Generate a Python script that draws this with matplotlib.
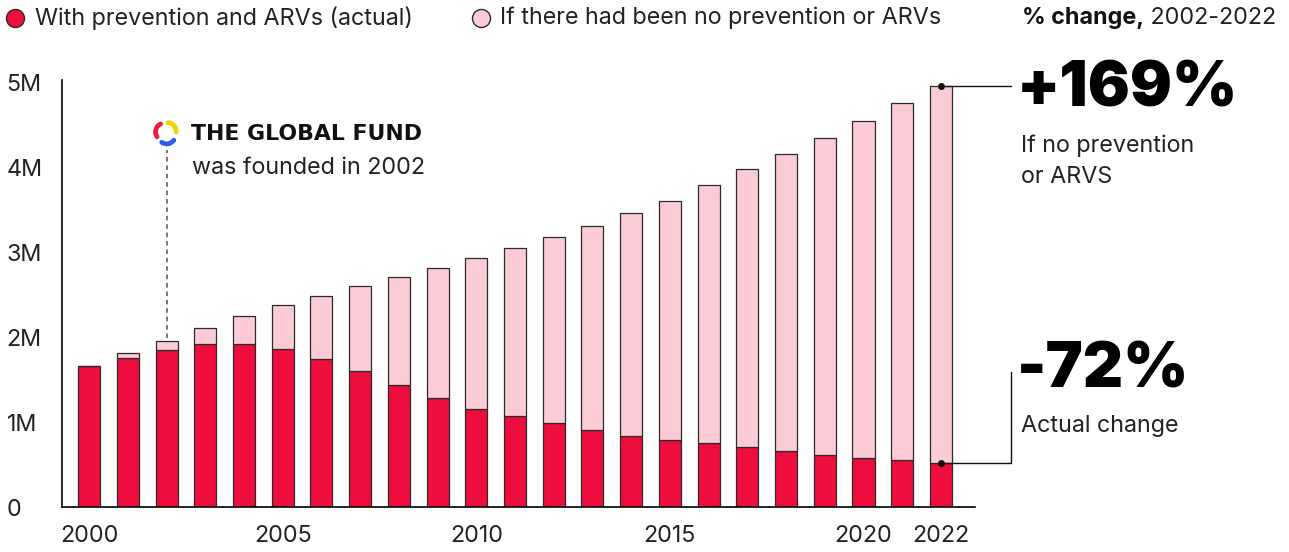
import numpy as np
import matplotlib
matplotlib.use('Agg')
import matplotlib.pyplot as plt
from matplotlib.lines import Line2D
from matplotlib.patches import Arc

plt.rcParams['font.family'] = ['Inter', 'DejaVu Sans']

years = list(range(2000, 2023))
actual = [1.66, 1.76, 1.85, 1.92, 1.92, 1.86, 1.74, 1.60, 1.44, 1.28, 1.16, 1.07,
          0.99, 0.91, 0.84, 0.79, 0.75, 0.71, 0.66, 0.61, 0.58, 0.55, 0.52]
no_prevention = [1.66, 1.81, 1.96, 2.11, 2.25, 2.38, 2.49, 2.60, 2.71, 2.81, 2.93, 3.05,
                 3.18, 3.31, 3.46, 3.61, 3.79, 3.98, 4.16, 4.35, 4.55, 4.76, 4.96]
ytick_vals = [0, 1, 2, 3, 4, 5]
ytick_labels = ['0', '1M', '2M', '3M', '4M', '5M']
xtick_years = [2000, 2005, 2010, 2015, 2020, 2022]

RED = '#EE0E3E'
PINK = '#FBCCD6'
EDGE = '#2a2a2a'
TXT = '#222222'
FS = 16.8

W, H = 1289, 552
fig = plt.figure(figsize=(W / 100, H / 100), dpi=100)
ax = fig.add_axes([62 / W, 45 / H, (975 - 62) / W, (507 - 80) / H])

gap = [n - a for n, a in zip(no_prevention, actual)]
ax.bar(years, actual, width=0.57, color=RED, edgecolor=EDGE, linewidth=0.9, zorder=2)
ax.bar(years, gap, bottom=actual, width=0.57, color=PINK, edgecolor=EDGE, linewidth=0.9, zorder=2)

ax.set_xlim(1999.3, 2022.88)
ax.set_ylim(0, 5.03)
for s in ['top', 'right']:
    ax.spines[s].set_visible(False)
ax.spines['left'].set_linewidth(1.2)
ax.spines['bottom'].set_linewidth(1.2)
ax.set_yticks(ytick_vals)
ax.set_yticklabels(ytick_labels, ha='left')
ax.set_xticks(xtick_years)
ax.set_xticklabels([str(y) for y in xtick_years])
ax.tick_params(axis='y', length=0, pad=40, labelsize=FS, labelcolor=TXT)
ax.tick_params(axis='x', length=0, pad=13, labelsize=FS, labelcolor=TXT)

# Global Fund annotation
i02 = years.index(2002)
ax.plot([2002, 2002], [no_prevention[i02] + 0.03, 4.2], ls=(0, (3, 2.5)), color='#555555',
        lw=1.1, zorder=3)
fig.text(191 / W, 1 - 134 / H, 'THE GLOBAL FUND', fontsize=15.8, fontweight='bold',
         family='DejaVu Sans', va='center', ha='left', color='#111111')
fig.text(192 / W, 1 - 168 / H, 'was founded in 2002', fontsize=FS, va='center',
         ha='left', color=TXT)

# logo
lax = fig.add_axes([152 / W, 1 - 147 / H, 28 / W, 28 / H])
lax.set_xlim(-1, 1)
lax.set_ylim(-1, 1)
lax.set_aspect('equal')
lax.axis('off')
lax.add_patch(Arc((-0.12, 0.08), 1.25, 1.25, theta1=115, theta2=215, color='#EE1C3A',
                  lw=3.4, capstyle='round'))
lax.add_patch(Arc((0.1, 0.12), 1.25, 1.25, theta1=-5, theta2=85, color='#F6D300',
                  lw=3.4, capstyle='round'))
lax.add_patch(Arc((0.05, -0.15), 1.25, 1.25, theta1=235, theta2=325, color='#2F5BEA',
                  lw=3.4, capstyle='round'))

# right side annotations
x_end = 2022 + (1011 - 941) / 38.73
top22 = no_prevention[-1]
act22 = actual[-1]
ax.plot([2022, x_end], [top22, top22], color='#111111', lw=1, clip_on=False, zorder=4)
ax.plot([2022], [top22], 'o', color='#111111', ms=4, clip_on=False, zorder=5)
ax.plot([2022, x_end, x_end], [act22, act22, (507 - 372) / 85], color='#111111', lw=1,
        clip_on=False, zorder=4)
ax.plot([2022], [act22], 'o', color='#111111', ms=4, clip_on=False, zorder=5)

fig.text(1017 / W, 1 - 90 / H, '+169%', fontsize=45, fontweight='black', va='center',
         ha='left', color='#000000')
fig.text(1021 / W, 1 - 146 / H, 'If no prevention', fontsize=FS, va='center', ha='left',
         color=TXT)
fig.text(1021 / W, 1 - 177 / H, 'or ARVS', fontsize=FS, va='center', ha='left', color=TXT)
fig.text(1017 / W, 1 - 371 / H, '-72%', fontsize=45, fontweight='black', va='center',
         ha='left', color='#000000')
fig.text(1021 / W, 1 - 426 / H, 'Actual change', fontsize=FS, va='center', ha='left',
         color=TXT)

# legend
fig.add_artist(Line2D([15 / W], [1 - 18 / H], marker='o', ms=13, mfc=RED, mec=EDGE,
                      mew=1, transform=fig.transFigure))
fig.text(35 / W, 1 - 18 / H, 'With prevention and ARVs (actual)', fontsize=FS,
         va='center', ha='left', color=TXT)
fig.add_artist(Line2D([481 / W], [1 - 18 / H], marker='o', ms=13, mfc=PINK, mec=EDGE,
                      mew=1, transform=fig.transFigure))
fig.text(500 / W, 1 - 18 / H, 'If there had been no prevention or ARVs', fontsize=FS,
         va='center', ha='left', color=TXT)
t = fig.text(1276 / W, 1 - 18 / H, ' 2002-2022', fontsize=FS, va='center', ha='right',
             color=TXT)
fig.canvas.draw()
bb = t.get_window_extent()
fig.text(bb.x0 / W, 1 - 18 / H, '% change,', fontsize=FS, fontweight='bold',
         va='center', ha='right', color='#111111')

fig.savefig('out.png', dpi=100)
